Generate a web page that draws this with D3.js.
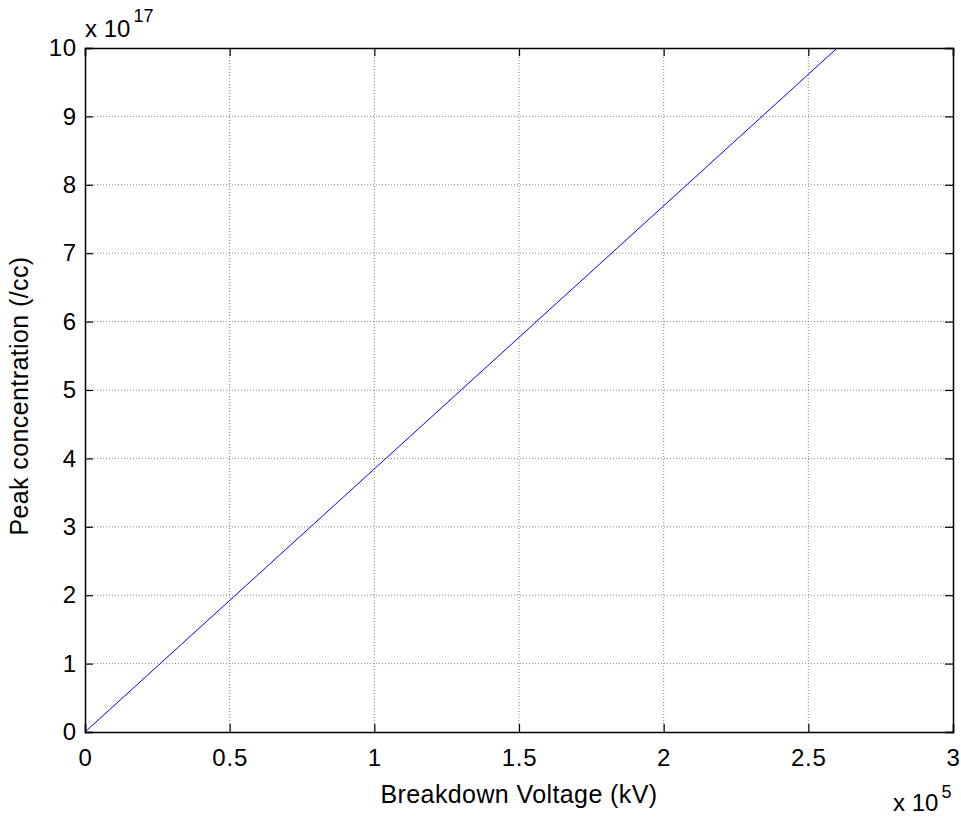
<!DOCTYPE html>
<html>
<head>
<meta charset="utf-8">
<script src="https://cdn.jsdelivr.net/npm/d3@7"></script>
<style>
  body { margin: 0; background: #fff; }
  text { font-family: "Liberation Sans", Arial, sans-serif; fill: #000; }
</style>
</head>
<body>
<div id="chart"></div>
<script>
var svgWidth = 961;
var svgHeight = 818;

var margin = { top: 48, right: 8, bottom: 86, left: 85 };
var width = svgWidth - margin.left - margin.right;
var height = svgHeight - margin.top - margin.bottom;

// data (x in kV, y in /cc)
var voltage = [0, 2.6e5];
var concentration = [0, 1e18];
var xTicks = [0, 0.5e5, 1e5, 1.5e5, 2e5, 2.5e5, 3e5];
var yTicks = [0, 1e17, 2e17, 3e17, 4e17, 5e17, 6e17, 7e17, 8e17, 9e17, 1e18];

var svg = d3.select("#chart").append("svg")
  .attr("width", svgWidth)
  .attr("height", svgHeight);

var chartGroup = svg.append("g")
  .attr("transform", `translate(${margin.left}, ${margin.top})`);

var x = d3.scaleLinear().domain([0, 3e5]).range([0, width]);
var y = d3.scaleLinear().domain([0, 1e18]).range([height, 0]);

// grid lines
chartGroup.append("g")
  .selectAll("line")
  .data(xTicks.slice(1, -1))
  .enter()
  .append("line")
  .attr("x1", d => x(d)).attr("x2", d => x(d))
  .attr("y1", 0).attr("y2", height)
  .attr("stroke", "#666")
  .attr("stroke-width", 0.8)
  .attr("stroke-dasharray", "1,2");

chartGroup.append("g")
  .selectAll("line")
  .data(yTicks.slice(1, -1))
  .enter()
  .append("line")
  .attr("x1", 0).attr("x2", width)
  .attr("y1", d => y(d)).attr("y2", d => y(d))
  .attr("stroke", "#666")
  .attr("stroke-width", 0.8)
  .attr("stroke-dasharray", "1,2");

// data line
var points = voltage.map((v, i) => [v, concentration[i]]);
chartGroup.append("path")
  .datum(points)
  .attr("fill", "none")
  .attr("stroke", "#0000ff")
  .attr("stroke-width", 1)
  .attr("d", d3.line().x(d => x(d[0])).y(d => y(d[1])));

// axes with inward ticks on all sides
var bottomAxis = d3.axisBottom(x).tickValues(xTicks).tickSize(-8).tickPadding(17)
  .tickFormat(d => d3.format("~g")(d / 1e5));
var leftAxis = d3.axisLeft(y).tickValues(yTicks).tickSize(-8).tickPadding(8)
  .tickFormat(d => d3.format("~g")(d / 1e17));
var topAxis = d3.axisTop(x).tickValues(xTicks).tickSize(-8).tickFormat("");
var rightAxis = d3.axisRight(y).tickValues(yTicks).tickSize(-8).tickFormat("");

function styleAxis(g) {
  g.select(".domain").attr("stroke", "#000").attr("stroke-width", 1.5);
  g.selectAll(".tick line").attr("stroke", "#000").attr("stroke-width", 1.2);
  g.selectAll(".tick text")
    .style("font-size", "24px")
    .style("letter-spacing", "0.8px")
    .style("font-family", "'Liberation Sans', Arial, sans-serif");
}

chartGroup.append("g")
  .attr("transform", `translate(0, ${height})`)
  .call(bottomAxis).call(styleAxis);
chartGroup.append("g").call(leftAxis).call(styleAxis);
chartGroup.append("g").call(topAxis).call(styleAxis);
chartGroup.append("g")
  .attr("transform", `translate(${width}, 0)`)
  .call(rightAxis).call(styleAxis);

// axis labels
chartGroup.append("text")
  .attr("x", width / 2)
  .attr("y", height + 71)
  .attr("text-anchor", "middle")
  .style("font-size", "25px")
  .style("letter-spacing", "0.4px")
  .text("Breakdown Voltage (kV)");

chartGroup.append("text")
  .attr("transform", "rotate(-90)")
  .attr("x", -height / 2 - 6)
  .attr("y", -57)
  .attr("text-anchor", "middle")
  .style("font-size", "25px")
  .style("letter-spacing", "0.4px")
  .text("Peak concentration (/cc)");

// exponent labels
var yExp = svg.append("text").attr("x", 85).attr("y", 37).style("font-size", "24px");
yExp.append("tspan").text("x 10");
yExp.append("tspan").attr("dx", 3).attr("dy", -15).style("font-size", "18px").text("17");

var xExp = svg.append("text").attr("x", 893).attr("y", 811).style("font-size", "24px");
xExp.append("tspan").text("x 10");
xExp.append("tspan").attr("dx", 3).attr("dy", -13).style("font-size", "18px").text("5");
</script>
</body>
</html>
